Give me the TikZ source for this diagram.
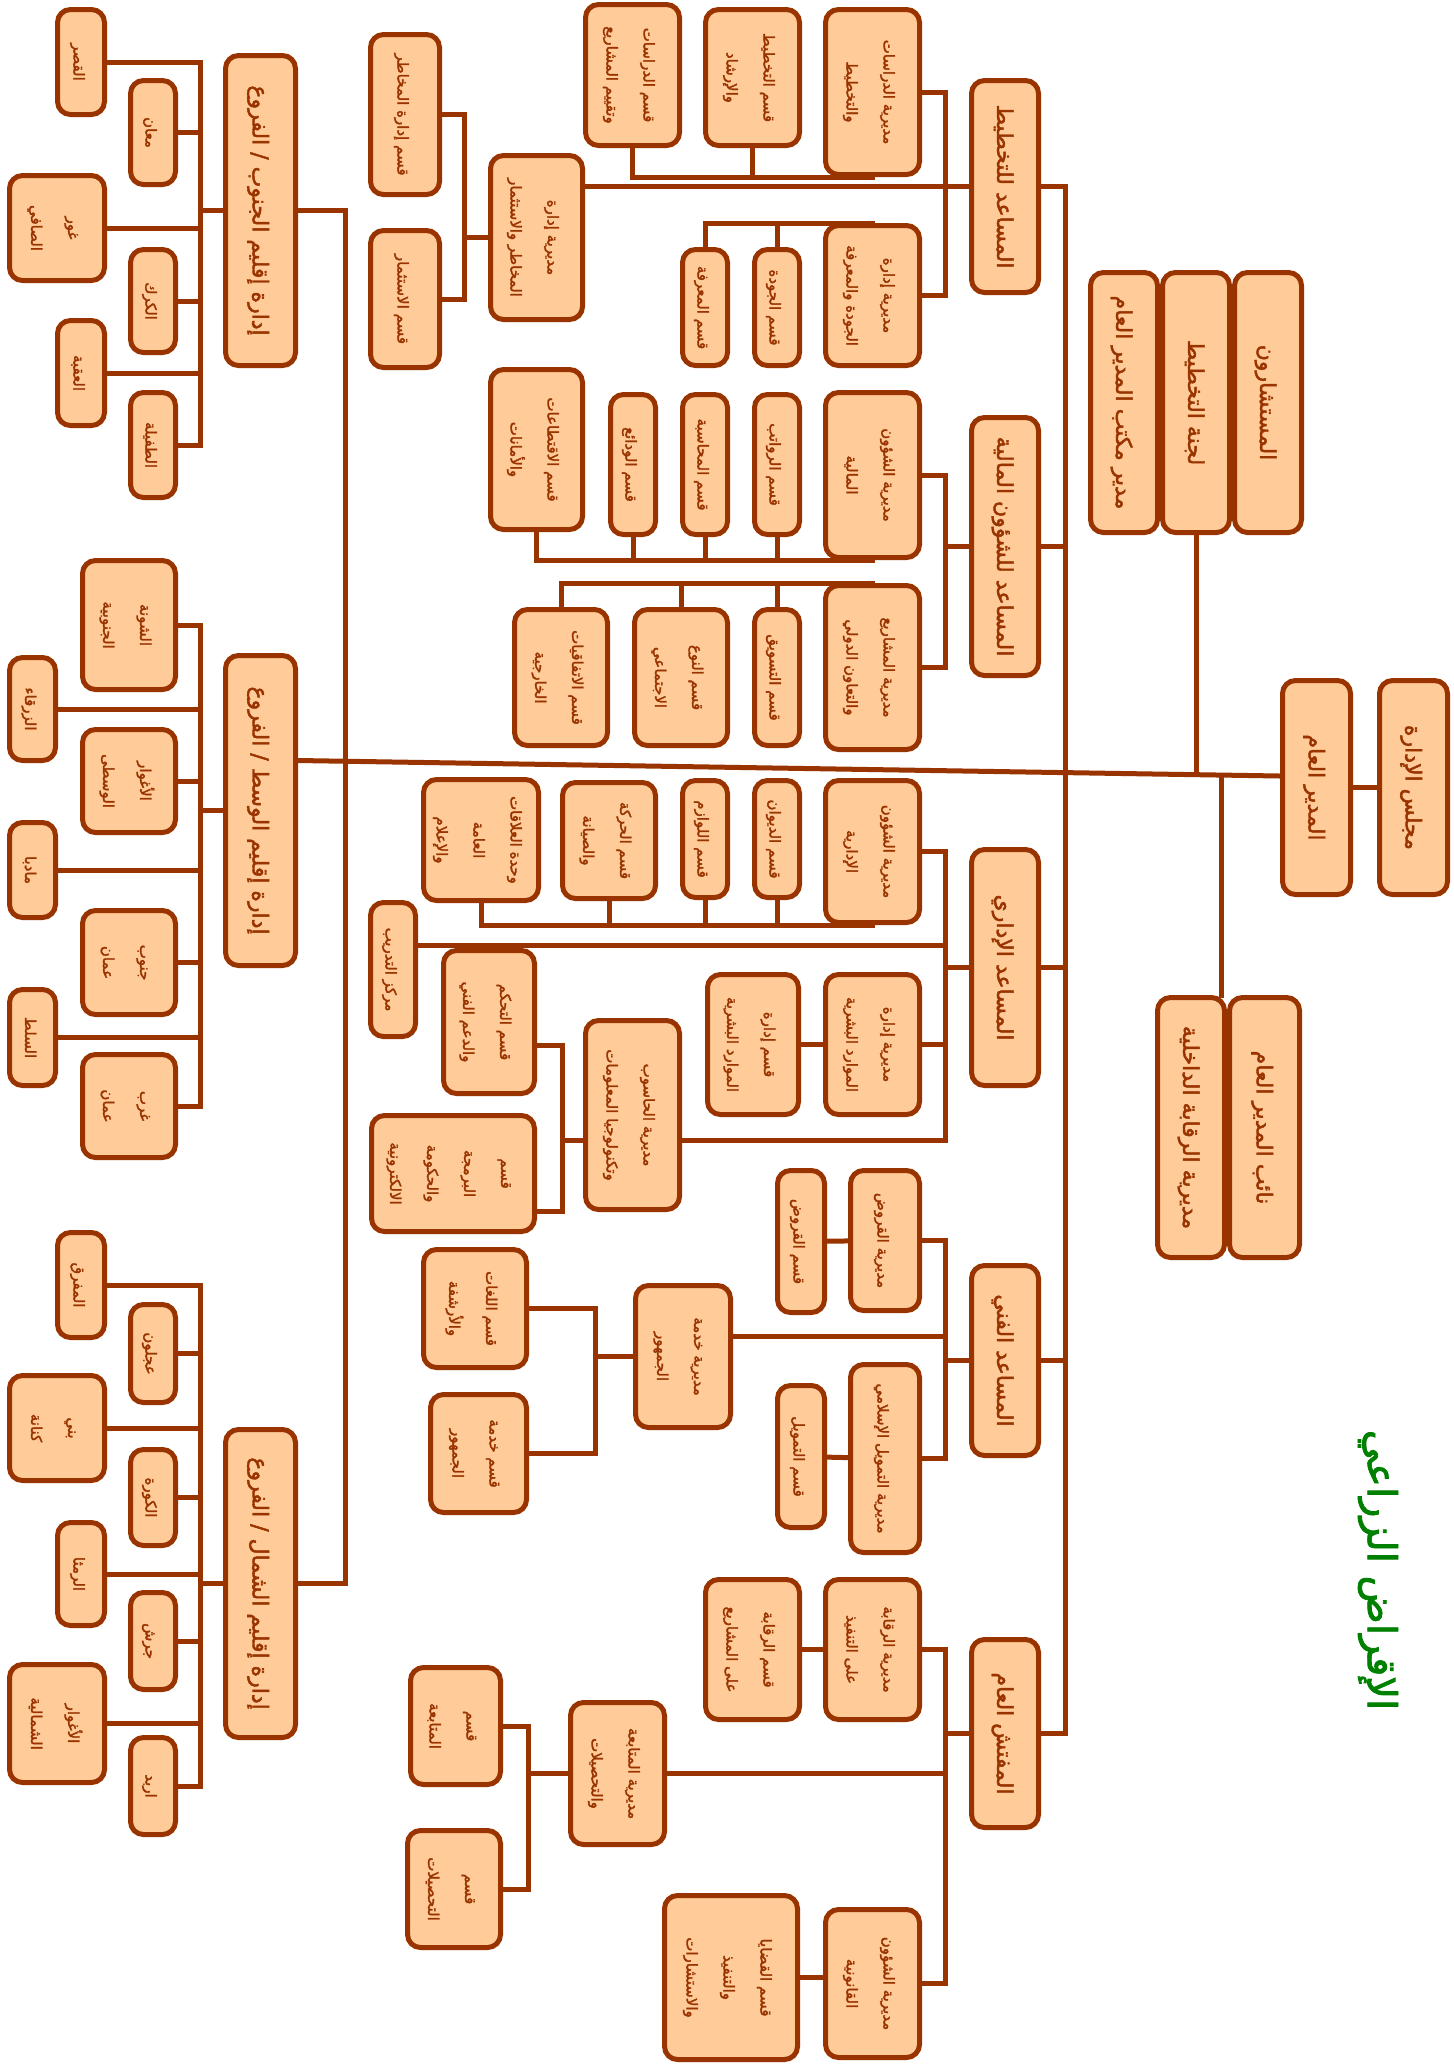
\documentclass[tikz,border=0pt]{standalone}
\usepackage{fontspec}
\usepackage{graphicx}
\usetikzlibrary{calc}
\newfontfamily\arabicfont[Script=Arabic,FakeBold=2]{DejaVu Sans}
\TeXXeTstate=1
\definecolor{brn}{RGB}{153,51,0}
\definecolor{peach}{RGB}{255,204,153}
\definecolor{ttl}{RGB}{0,128,0}
\newcommand\ar[1]{\beginR #1\endR}
\newcommand\rt[1]{\rotatebox{-90}{\begin{tabular}{@{}c@{}}#1\end{tabular}}}
\tikzset{
  box/.style={draw=brn, fill=peach, line width=5pt, rounded corners=13pt, inner sep=0pt, text=brn},
  bx/.style 2 args={box, minimum width=#1, minimum height=#2},
  big/.style={font=\arabicfont\fontsize{22}{40}\selectfont},
  sml/.style={font=\arabicfont\fontsize{15}{37}\selectfont},
  lnk/.style={draw=brn, line width=5pt, line cap=rect},
}
\begin{document}
\begin{tikzpicture}[x=1pt, y=-1pt]
  \useasboundingbox (0,0) rectangle (1454,2065);
  % top level
  \node[bx={68}{214}, big] (board) at (1413.5,787.5) {\rt{\ar{مجلس الإدارة}}};
  \node[bx={68}{214}, big] (gm) at (1316.5,787.5) {\rt{\ar{المدير العام}}};
  \node[bx={67}{260}, big] (office) at (1124,402.5) {\rt{\ar{مدير مكتب المدير العام}}};
  \node[bx={67}{260}, big] (committee) at (1196,402.5) {\rt{\ar{لجنة التخطيط}}};
  \node[bx={67}{260}, big] (advisers) at (1268,402.5) {\rt{\ar{المستشارون}}};
  \node[bx={67}{260}, big] (audit) at (1191,1127.5) {\rt{\ar{مديرية الرقابة الداخلية}}};
  \node[bx={70}{260}, big] (deputy) at (1264.5,1127.5) {\rt{\ar{نائب المدير العام}}};
  % assistants
  \node[bx={67}{212}, big] (plan) at (1005,186.5) {\rt{\ar{المساعد للتخطيط}}};
  \node[bx={67}{258}, big] (finA) at (1005,546.5) {\rt{\ar{المساعد للشؤون المالية}}};
  \node[bx={67}{236}, big] (admA) at (1005,967.5) {\rt{\ar{المساعد الإداري}}};
  \node[bx={67}{190}, big] (techA) at (1005,1360.5) {\rt{\ar{المساعد الفني}}};
  \node[bx={67}{188}, big] (insp) at (1005,1733.5) {\rt{\ar{المفتش العام}}};
  % regions
  \node[bx={70}{310}, big] (south) at (260.5,210.5) {\rt{\ar{إدارة إقليم الجنوب / الفروع}}};
  \node[bx={70}{310}, big] (mid) at (260.5,810.5) {\rt{\ar{إدارة إقليم الوسط / الفروع}}};
  \node[bx={70}{308}, big] (north) at (260.5,1583.5) {\rt{\ar{إدارة إقليم الشمال / الفروع}}};
  % south branches
  \node[bx={47}{105}, sml] (qasr) at (81,62) {\rt{\ar{القصر}}};
  \node[bx={45}{104}, sml] (maan) at (153,132.5) {\rt{\ar{معان}}};
  \node[bx={95}{105}, sml] (ghor) at (57,228) {\rt{\ar{غور}\\\ar{الصافي}}};
  \node[bx={45}{103}, sml] (karak) at (153,301) {\rt{\ar{الكرك}}};
  \node[bx={47}{105}, sml] (aqaba) at (81,373) {\rt{\ar{العقبة}}};
  \node[bx={45}{105}, sml] (tafila) at (153,445) {\rt{\ar{الطفيلة}}};
  % middle branches
  \node[bx={93}{129}, sml] (shuna) at (129,625) {\rt{\ar{الشونة}\\\ar{الجنوبية}}};
  \node[bx={46}{103}, sml] (zarqa) at (32.5,709) {\rt{\ar{الزرقاء}}};
  \node[bx={93}{103}, sml] (aghwarM) at (129,781) {\rt{\ar{الأغوار}\\\ar{الوسطى}}};
  \node[bx={46}{95}, sml] (madaba) at (32.5,870) {\rt{\ar{مادبا}}};
  \node[bx={93}{104}, sml] (ammanS) at (129,962.5) {\rt{\ar{جنوب}\\\ar{عمان}}};
  \node[bx={46}{96}, sml] (salt) at (32.5,1037.5) {\rt{\ar{السلط}}};
  \node[bx={93}{103}, sml] (ammanW) at (129,1106) {\rt{\ar{غرب}\\\ar{عمان}}};
  % north branches
  \node[bx={47}{105}, sml] (mafraq) at (81,1285) {\rt{\ar{المفرق}}};
  \node[bx={45}{98}, sml] (ajloun) at (153,1353.5) {\rt{\ar{عجلون}}};
  \node[bx={95}{105}, sml] (kenana) at (57,1428) {\rt{\ar{بني}\\\ar{كنانة}}};
  \node[bx={45}{96}, sml] (koura) at (153,1497.5) {\rt{\ar{الكورة}}};
  \node[bx={47}{103}, sml] (ramtha) at (81,1574) {\rt{\ar{الرمثا}}};
  \node[bx={45}{97}, sml] (jerash) at (153,1641) {\rt{\ar{جرش}}};
  \node[bx={95}{118}, sml] (aghwarN) at (57,1723.5) {\rt{\ar{الأغوار}\\\ar{الشمالية}}};
  \node[bx={45}{97}, sml] (irbid) at (153,1786) {\rt{\ar{اربد}}};
  % planning
  \node[bx={92}{164}, sml] (riskDir) at (536.5,237.5) {\rt{\ar{مديرية إدارة}\\\ar{المخاطر والاستثمار}}};
  \node[bx={69}{160}, sml] (riskSec) at (405,114.5) {\rt{\ar{قسم إدارة المخاطر}}};
  \node[bx={69}{137}, sml] (invest) at (405,299) {\rt{\ar{قسم الاستثمار}}};
  \node[bx={94}{165}, sml] (studDir) at (872.5,92) {\rt{\ar{مديرية الدراسات}\\\ar{والتخطيط}}};
  \node[bx={94}{141}, sml] (studSec) at (632.5,75) {\rt{\ar{قسم الدراسات}\\\ar{وتقييم المشاريع}}};
  \node[bx={94}{136}, sml] (planSec) at (752.5,77.5) {\rt{\ar{قسم التخطيط}\\\ar{والإرشاد}}};
  \node[bx={94}{140}, sml] (qualDir) at (872.5,295.5) {\rt{\ar{مديرية إدارة}\\\ar{الجودة والمعرفة}}};
  \node[bx={45}{116}, sml] (qualSec) at (777,307.5) {\rt{\ar{قسم الجودة}}};
  \node[bx={45}{116}, sml] (knowSec) at (705,307.5) {\rt{\ar{قسم المعرفة}}};
  % finance
  \node[bx={94}{165}, sml] (finDir) at (872.5,475) {\rt{\ar{مديرية الشؤون}\\\ar{المالية}}};
  \node[bx={45}{140}, sml] (salSec) at (777,464.5) {\rt{\ar{قسم الرواتب}}};
  \node[bx={45}{140}, sml] (accSec) at (705,464.5) {\rt{\ar{قسم المحاسبة}}};
  \node[bx={45}{140}, sml] (depSec) at (633,464.5) {\rt{\ar{قسم الودائع}}};
  \node[bx={92}{160}, sml] (dedSec) at (536.5,449.5) {\rt{\ar{قسم الاقتطاعات}\\\ar{والأمانات}}};
  \node[bx={94}{164}, sml] (projDir) at (872.5,667.5) {\rt{\ar{مديرية المشاريع}\\\ar{والتعاون الدولي}}};
  \node[bx={45}{136}, sml] (mktSec) at (777,677.5) {\rt{\ar{قسم التسويق}}};
  \node[bx={93}{136}, sml] (genSec) at (681,677.5) {\rt{\ar{قسم النوع}\\\ar{الاجتماعي}}};
  \node[bx={93}{136}, sml] (agrSec) at (561,677.5) {\rt{\ar{قسم الاتفاقيات}\\\ar{الخارجية}}};
  % administration
  \node[bx={94}{142}, sml] (admDir) at (872.5,851.5) {\rt{\ar{مديرية الشؤون}\\\ar{الإدارية}}};
  \node[bx={45}{117}, sml] (diwan) at (777,839) {\rt{\ar{قسم الديوان}}};
  \node[bx={45}{117}, sml] (supply) at (705,839) {\rt{\ar{قسم اللوازم}}};
  \node[bx={93}{116}, sml] (moveSec) at (609,840.5) {\rt{\ar{قسم الحركة}\\\ar{والصيانة}}};
  \node[bx={115}{121}, sml] (prUnit) at (481,840) {\rt{\ar{وحدة العلاقات}\\\ar{العامة}\\\ar{والإعلام}}};
  \node[bx={45}{134}, sml] (training) at (393,969.5) {\rt{\ar{مركز التدريب}}};
  \node[bx={94}{140}, sml] (hrDir) at (872.5,1044.5) {\rt{\ar{مديرية إدارة}\\\ar{الموارد البشرية}}};
  \node[bx={91}{140}, sml] (hrSec) at (753,1044.5) {\rt{\ar{قسم إدارة}\\\ar{الموارد البشرية}}};
  \node[bx={94}{189}, sml] (itDir) at (632.5,1115) {\rt{\ar{مديرية الحاسوب}\\\ar{وتكنولوجيا المعلومات}}};
  \node[bx={91}{143}, sml] (ctrlSec) at (489,1022) {\rt{\ar{قسم التحكم}\\\ar{والدعم الفني}}};
  \node[bx={163}{116}, sml] (progSec) at (453,1173.5) {\rt{\ar{قسم}\\\ar{البرمجة}\\\ar{والحكومة}\\\ar{الالكترونية}}};
  % technical
  \node[bx={69}{140}, sml] (loanDir) at (885,1240.5) {\rt{\ar{مديرية القروض}}};
  \node[bx={47}{142}, sml] (loanSec) at (801,1241.5) {\rt{\ar{قسم القروض}}};
  \node[bx={69}{188}, sml] (islDir) at (885,1458.5) {\rt{\ar{مديرية التمويل الإسلامي}}};
  \node[bx={47}{142}, sml] (finSec) at (801,1456.5) {\rt{\ar{قسم التمويل}}};
  \node[bx={95}{142}, sml] (pubDir) at (683,1356.5) {\rt{\ar{مديرية خدمة}\\\ar{الجمهور}}};
  \node[bx={103}{118}, sml] (langSec) at (475,1308.5) {\rt{\ar{قسم اللغات}\\\ar{والأرشفة}}};
  \node[bx={96}{118}, sml] (pubSec) at (478.5,1453.5) {\rt{\ar{قسم خدمة}\\\ar{الجمهور}}};
  % inspection
  \node[bx={94}{140}, sml] (ctrlDir) at (872.5,1649.5) {\rt{\ar{مديرية الرقابة}\\\ar{على التنفيذ}}};
  \node[bx={94}{140}, sml] (ctrlProj) at (752.5,1649.5) {\rt{\ar{قسم الرقابة}\\\ar{على المشاريع}}};
  \node[bx={94}{142}, sml] (folDir) at (617.5,1773.5) {\rt{\ar{مديرية المتابعة}\\\ar{والتحصيلات}}};
  \node[bx={90}{117}, sml] (folSec) at (455.5,1726) {\rt{\ar{قسم}\\\ar{المتابعة}}};
  \node[bx={93}{117}, sml] (colSec) at (454,1889) {\rt{\ar{قسم}\\\ar{التحصيلات}}};
  \node[bx={94}{148}, sml] (legDir) at (872.5,1983.5) {\rt{\ar{مديرية الشؤون}\\\ar{القانونية}}};
  \node[bx={133}{164}, sml] (legSec) at (731,1977.5) {\rt{\ar{قسم القضايا}\\\ar{والتنفيذ}\\\ar{والاستشارات}}};
  % title
  \node[font=\arabicfont\fontsize{40}{48}\selectfont, text=ttl] (title) at (1378,1570) {\rotatebox{-90}{\ar{الإقراض الزراعي}}};

  % bus columns
  \coordinate (trunk) at (1065,0);
  \coordinate (pbus) at (945,0);
  \coordinate (sbus) at (200,0);
  \coordinate (rbus) at (345,0);
  \coordinate (kbus) at (464,0);
  \coordinate (itbus) at (562,0);
  \coordinate (pubbus) at (595,0);
  \coordinate (folbus) at (528,0);

  % main line
  \draw[lnk] (gm) -- (board);
  \draw[lnk] ([yshift=50pt]mid.east) -- coordinate[pos=0.914] (jc) coordinate[pos=0.94] (jd) ([yshift=11.5pt]gm.west);
  \draw[lnk] (committee.south) -- (committee.south |- jc);
  \draw[lnk] (jd) -- (jd |- audit.north);
  \draw[lnk] (plan.east) -- (plan.east -| trunk) -- (insp.east -| trunk) -- (insp.east);
  \foreach \n in {finA,admA,techA}
    \draw[lnk] (\n.east) -- (\n.east -| trunk);

  % regions
  \draw[lnk] (south.east) -| (rbus |- north.east) -- (north.east);
  \foreach \n in {qasr,maan,ghor,karak,aqaba,tafila,shuna,zarqa,aghwarM,madaba,ammanS,salt,ammanW,mafraq,ajloun,kenana,koura,ramtha,jerash,aghwarN,irbid}
    \draw[lnk] (\n.east) -- (\n.east -| sbus);
  \draw[lnk] (qasr.east -| sbus) -- (tafila.east -| sbus);
  \draw[lnk] (shuna.east -| sbus) -- (ammanW.east -| sbus);
  \draw[lnk] (mafraq.east -| sbus) -- (irbid.east -| sbus);
  \foreach \n in {south,mid,north}
    \draw[lnk] (\n.west) -- (\n.west -| sbus);

  % planning
  \draw[lnk] (riskDir.east |- plan.west) -- (plan.west);
  \draw[lnk] (riskSec.east) -| (kbus |- invest.east) -- (invest.east);
  \draw[lnk] (riskDir.west) -- (riskDir.west -| kbus);
  \draw[lnk] (studDir.east) -| (pbus |- qualDir.east) -- (qualDir.east);
  \draw[lnk] (studSec.south) |- (studDir.south);
  \draw[lnk] (planSec.south) -- (planSec.south |- studDir.south);
  \draw[lnk] (knowSec.north) |- (qualDir.north);
  \draw[lnk] (qualSec.north) -- (qualSec.north |- qualDir.north);

  % finance
  \draw[lnk] (finDir.east) -| (pbus |- projDir.east) -- (projDir.east);
  \draw[lnk] (finA.west) -- (finA.west -| pbus);
  \draw[lnk] (dedSec.south) |- (finDir.south);
  \foreach \n in {depSec,accSec,salSec}
    \draw[lnk] (\n.south) -- (\n.south |- finDir.south);
  \draw[lnk] (agrSec.north) |- (projDir.north);
  \foreach \n in {genSec,mktSec}
    \draw[lnk] (\n.north) -- (\n.north |- projDir.north);

  % administration
  \coordinate (ite) at ([yshift=-25pt]itDir.east);
  \coordinate (itw) at ([yshift=-25pt]itDir.west);
  \coordinate (ct) at ([yshift=-23pt]ctrlSec.east);
  \coordinate (pg) at ([yshift=-38pt]progSec.east);
  \coordinate (tr) at ([yshift=24.5pt]training.east);
  \draw[lnk] (admDir.east) -| (pbus |- ite) -- (ite);
  \draw[lnk] (admA.west) -- (admA.west -| pbus);
  \draw[lnk] (hrDir.east) -- (hrDir.east -| pbus);
  \draw[lnk] (tr) -- (tr -| pbus);
  \draw[lnk] (hrSec) -- (hrDir);
  \draw[lnk] (prUnit.south) |- (admDir.south);
  \foreach \n in {moveSec,supply,diwan}
    \draw[lnk] (\n.south) -- (\n.south |- admDir.south);
  \draw[lnk] (ct) -| (itbus |- pg) -- (pg);
  \draw[lnk] (itw) -- (itw -| itbus);

  % technical
  \coordinate (pd) at ([yshift=20pt]pubDir.east);
  \draw[lnk] (loanDir.east) -| (pbus |- islDir.east) -- (islDir.east);
  \draw[lnk] (techA.west) -- (techA.west -| pbus);
  \draw[lnk] (pd) -- (pd -| pbus);
  \draw[lnk] (loanSec) -- (loanDir);
  \draw[lnk] (finSec) -- (islDir);
  \draw[lnk] (langSec.east) -| (pubbus |- pubSec.east) -- (pubSec.east);
  \draw[lnk] (pubDir.west) -- (pubDir.west -| pubbus);

  % inspection
  \draw[lnk] (ctrlDir.east) -| (pbus |- legDir.east) -- (legDir.east);
  \draw[lnk] (folDir.east) -- (folDir.east -| pbus);
  \draw[lnk] (insp.west) -- (insp.west -| pbus);
  \draw[lnk] (ctrlProj) -- (ctrlDir);
  \draw[lnk] (legSec.east) -- (legSec.east -| legDir.west);
  \draw[lnk] (folSec.east) -| (folbus |- colSec.east) -- (colSec.east);
  \draw[lnk] (folDir.west) -- (folDir.west -| folbus);
\end{tikzpicture}
\end{document}
